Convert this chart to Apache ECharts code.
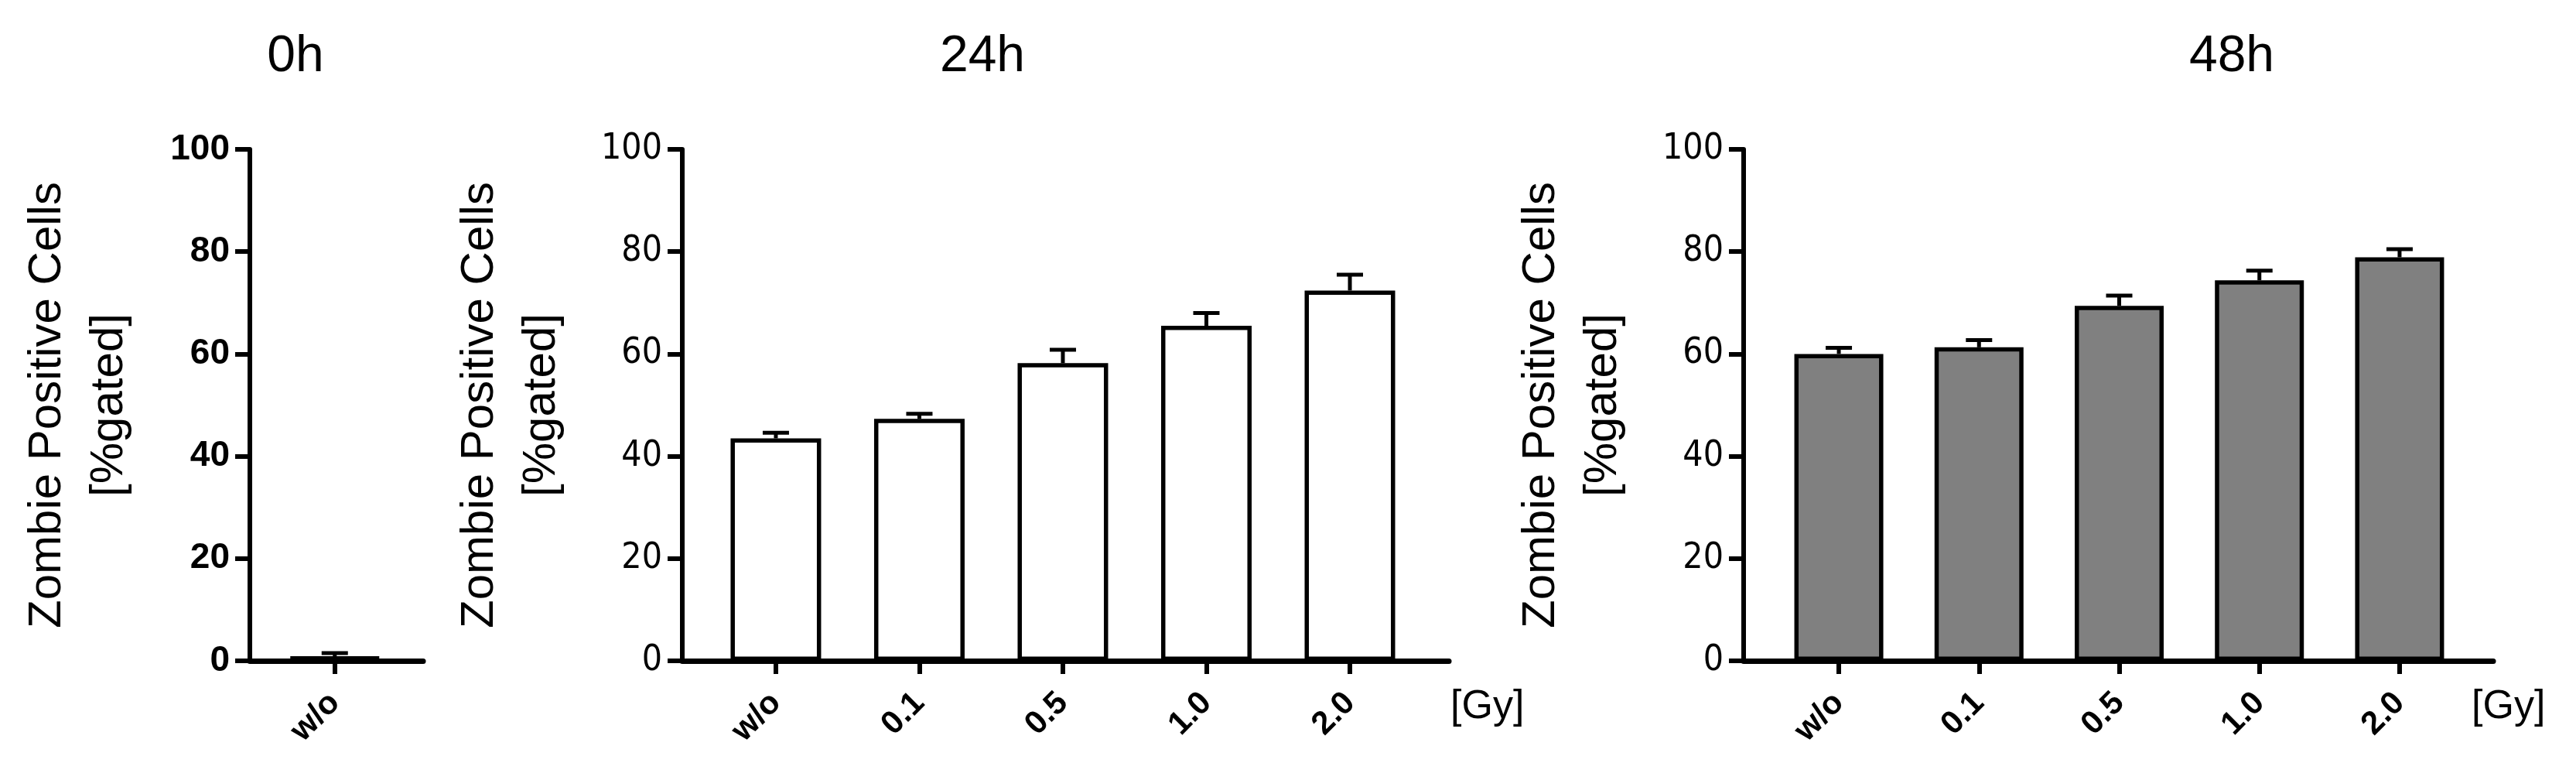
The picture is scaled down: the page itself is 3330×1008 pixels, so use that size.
<!DOCTYPE html>
<html>
<head>
<meta charset="utf-8">
<title>Zombie positive cells</title>
<script src="https://cdn.jsdelivr.net/npm/echarts@6/dist/echarts.min.js"></script>
<style>
  html, body { margin: 0; padding: 0; background: #fff; }
  #chart { width: 3330px; height: 1008px; }
</style>
</head>
<body>
<div id="chart"></div>
<script>
// data
var doses0 = ["w/o"];
var doses = ["w/o", "0.1", "0.5", "1.0", "2.0"];
var yTicks = [0, 20, 40, 60, 80, 100];
var titles = ["0h", "24h", "48h"];

var mean0h = [0.9];
var sem0h = [0.6];
var mean24h = [43.5, 47.3, 58.2, 65.5, 72.4];
var sem24h = [1.1, 1.0, 2.6, 2.5, 3.1];
var mean48h = [60.0, 61.3, 69.4, 74.4, 78.9];
var sem48h = [1.2, 1.4, 2.0, 1.9, 1.6];

var yName = "Zombie Positive Cells\n[%gated]";
var narrowFont = "'Liberation Sans Narrow', 'DejaVu Sans Condensed', Roboto, sans-serif";

function barData(means) {
  return means.map(function (v, i) { return [i, v]; });
}
function errData(means, sems) {
  return means.map(function (v, i) { return [i, v, sems[i]]; });
}

// error bar: only the upper whisker is visible above the bar
function errRender(params, api) {
  var x = api.value(0), y = api.value(1), e = api.value(2);
  var base = api.coord([x, y]);
  var top = api.coord([x, y + e]);
  var cap = 34;
  var st = { stroke: "#000", lineWidth: 5 };
  return {
    type: "group",
    children: [
      { type: "line", shape: { x1: base[0], y1: base[1], x2: top[0], y2: top[1] }, style: st },
      { type: "line", shape: { x1: top[0] - cap / 2, y1: top[1], x2: top[0] + cap / 2, y2: top[1] }, style: st }
    ]
  };
}

function xAxisOf(idx, cats, min, max, withUnit, unitGap) {
  var ticks = cats.map(function (c, i) { return i; });
  return {
    gridIndex: idx,
    type: "value",
    min: min,
    max: max,
    splitLine: { show: false },
    axisLine: { onZero: false, lineStyle: { color: "#000", width: 7 } },
    axisTick: { show: true, customValues: ticks, length: 17, lineStyle: { color: "#000", width: 6 } },
    axisLabel: {
      customValues: ticks,
      rotate: 45,
      margin: 48,
      fontFamily: "Liberation Sans",
      fontWeight: "bold",
      fontSize: 42,
      color: "#000",
      formatter: function (v) { return cats[Math.round(v)]; }
    },
    name: withUnit ? "[Gy]" : "",
    nameLocation: "end",
    nameGap: unitGap,
    nameTextStyle: {
      fontFamily: "Liberation Sans",
      fontSize: 52,
      color: "#000",
      verticalAlign: "top",
      padding: [34, 0, 0, 0]
    }
  };
}

function yAxisOf(idx, bold) {
  return {
    gridIndex: idx,
    type: "value",
    min: yTicks[0],
    max: yTicks[yTicks.length - 1],
    interval: 20,
    splitLine: { show: false },
    axisLine: { show: true, onZero: false, lineStyle: { color: "#000", width: 6 } },
    axisTick: { show: true, length: 19, lineStyle: { color: "#000", width: 6 } },
    axisLabel: {
      margin: 26,
      color: "#000",
      fontSize: bold ? 46 : 46,
      fontWeight: bold ? "bold" : "normal",
      fontFamily: bold ? "Liberation Sans" : narrowFont
    },
    name: yName,
    nameLocation: "middle",
    nameRotate: 90,
    nameGap: 142,
    nameTextStyle: {
      fontFamily: "Liberation Sans",
      fontSize: 60,
      lineHeight: 80,
      color: "#000"
    }
  };
}

var chart = echarts.init(document.getElementById("chart"));

var titleStyle = { fontFamily: "Liberation Sans", fontWeight: "normal", fontSize: 66, color: "#000" };

var option = {
  backgroundColor: "#fff",
  animation: false,
  title: [
    { text: titles[0], left: 377, top: 36, textAlign: "center", textStyle: titleStyle },
    { text: titles[1], left: 1265, top: 36, textAlign: "center", textStyle: titleStyle },
    { text: titles[2], left: 2880, top: 36, textAlign: "center", textStyle: titleStyle }
  ],
  grid: [
    { left: 323, width: 224, top: 193, height: 661, outerBoundsMode: "none" },
    { left: 882, width: 991, top: 193, height: 661, outerBoundsMode: "none" },
    { left: 2254, width: 969, top: 193, height: 661, outerBoundsMode: "none" }
  ],
  xAxis: [
    xAxisOf(0, doses0, -0.49, 0.51, false, 0),
    xAxisOf(1, doses, -0.652, 4.69, true, 2),
    xAxisOf(2, doses, -0.679, 4.668, true, -28)
  ],
  yAxis: [
    yAxisOf(0, true),
    yAxisOf(1, false),
    yAxisOf(2, false)
  ],
  series: [
    {
      name: "0h", type: "bar", xAxisIndex: 0, yAxisIndex: 0, barWidth: 115,
      data: barData(mean0h),
      itemStyle: { color: "#fff", borderColor: "#000", borderWidth: 5.5 }
    },
    {
      name: "0h err", type: "custom", xAxisIndex: 0, yAxisIndex: 0, z: 5,
      renderItem: errRender, data: errData(mean0h, sem0h)
    },
    {
      name: "24h", type: "bar", xAxisIndex: 1, yAxisIndex: 1, barWidth: 117,
      data: barData(mean24h),
      itemStyle: { color: "#fff", borderColor: "#000", borderWidth: 5.5 }
    },
    {
      name: "24h err", type: "custom", xAxisIndex: 1, yAxisIndex: 1, z: 5,
      renderItem: errRender, data: errData(mean24h, sem24h)
    },
    {
      name: "48h", type: "bar", xAxisIndex: 2, yAxisIndex: 2, barWidth: 115,
      data: barData(mean48h),
      itemStyle: { color: "#808080", borderColor: "#000", borderWidth: 5.5 }
    },
    {
      name: "48h err", type: "custom", xAxisIndex: 2, yAxisIndex: 2, z: 5,
      renderItem: errRender, data: errData(mean48h, sem48h)
    }
  ]
};

chart.setOption(option);
</script>
</body>
</html>
